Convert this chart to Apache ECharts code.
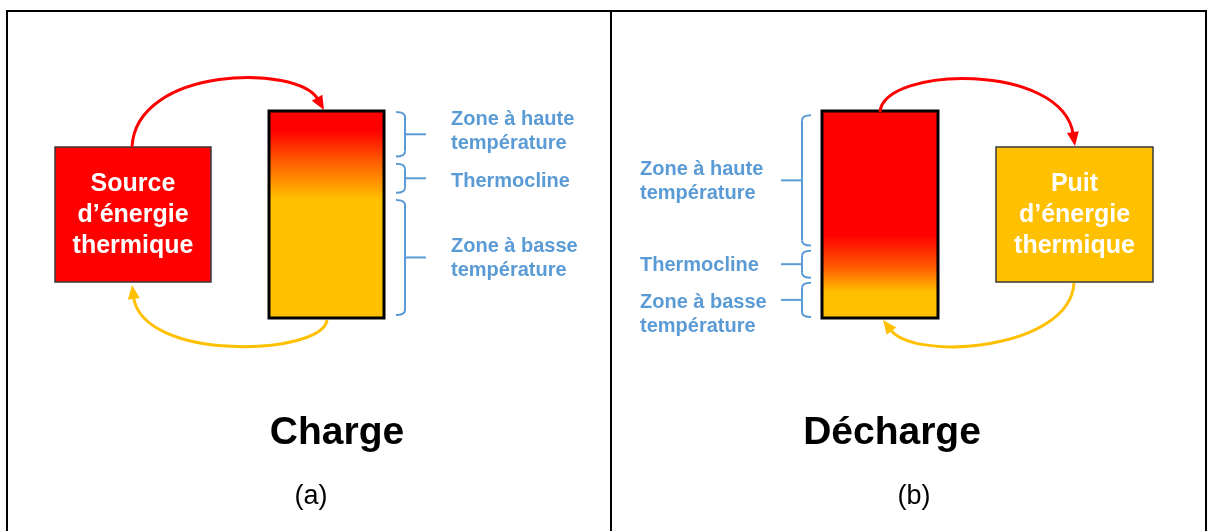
<!DOCTYPE html>
<html>
<head>
<meta charset="utf-8">
<script src="https://cdn.jsdelivr.net/npm/echarts@6/dist/echarts.min.js"></script>
<style>
  html, body { margin: 0; background: #fff; }
  #main { width: 1213px; height: 531px; }
</style>
</head>
<body>
<div id="main"></div>
<script>
// texts
const panelTitles = ['Charge', 'Décharge'];
const panelTags = ['(a)', '(b)'];
const boxLabels = ['Source\nd’énergie\nthermique', 'Puit\nd’énergie\nthermique'];
const zoneLabels = ['Zone à haute\ntempérature', 'Thermocline', 'Zone à basse\ntempérature'];
// tank colour profile, top (0) to bottom (1)
const chargeStops = [[0, '#ff0000'], [0.1, '#ff0000'], [0.27, '#ff6a00'], [0.43, '#ffc000'], [1, '#ffc000']];
const dischargeStops = [[0, '#ff0000'], [0.6, '#ff0000'], [0.75, '#ff5a00'], [0.87, '#ffc000'], [1, '#ffc000']];
// zone extents along the tank, [start, end]
const chargeZones = [[0.005, 0.22], [0.255, 0.395], [0.43, 0.985]];
const dischargeZones = [[0.02, 0.65], [0.675, 0.805], [0.83, 0.995]];

const RED = '#ff0000', YELLOW = '#ffc000', BLUE = '#5b9bd5';
const FONT = '"Liberation Sans", Arial, sans-serif';

const chart = echarts.init(document.getElementById('main'));
const els = [];

function grad(stops) {
  return new echarts.graphic.LinearGradient(0, 0, 0, 1,
    stops.map(s => ({ offset: s[0], color: s[1] })));
}

function txt(x, y, text, font, fill, align, lh) {
  els.push({
    type: 'text', x: x, y: y, z: 10,
    style: {
      text: text, font: font, fill: fill, lineHeight: lh,
      textAlign: align, align: align,
      textVerticalAlign: 'middle', verticalAlign: 'middle'
    }
  });
}

function arrow(p0, c1, c2, p3, color) {
  const dx = p3[0] - c2[0], dy = p3[1] - c2[1];
  const len = Math.hypot(dx, dy), ux = dx / len, uy = dy / len;
  const L = 14, W = 6;
  const bx = p3[0] - ux * L, by = p3[1] - uy * L;
  els.push({
    type: 'bezierCurve', z: 5,
    shape: {
      x1: p0[0], y1: p0[1], cpx1: c1[0], cpy1: c1[1],
      cpx2: c2[0], cpy2: c2[1], x2: p3[0] - ux * (L - 2), y2: p3[1] - uy * (L - 2)
    },
    style: { stroke: color, lineWidth: 3, fill: null }
  });
  els.push({
    type: 'polygon', z: 6,
    shape: { points: [[p3[0], p3[1]], [bx - uy * W, by + ux * W], [bx + uy * W, by - ux * W]] },
    style: { fill: color }
  });
}

// dir = 1: brace on the right of the tank, tick to the right; -1: on the left
function brace(xv, y0, y1, dir) {
  const hook = 9, tick = 21, r = 5;
  const xh = xv - dir * hook;
  const ym = (y0 + y1) / 2;
  const st = { stroke: BLUE, lineWidth: 2, fill: null };
  els.push({ type: 'bezierCurve', shape: { x1: xh, y1: y0, cpx1: xv, cpy1: y0, x2: xv, y2: y0 + r }, style: st });
  els.push({ type: 'line', shape: { x1: xv, y1: y0 + r, x2: xv, y2: y1 - r }, style: st });
  els.push({ type: 'bezierCurve', shape: { x1: xv, y1: y1 - r, cpx1: xv, cpy1: y1, x2: xh, y2: y1 }, style: st });
  els.push({ type: 'line', shape: { x1: xv, y1: ym, x2: xv + dir * tick, y2: ym }, style: st });
}

function tank(x, y, w, h, stops) {
  els.push({
    type: 'rect', z: 3, shape: { x: x, y: y, width: w, height: h },
    style: { fill: grad(stops), stroke: '#000', lineWidth: 3 }
  });
}

function box(x, y, w, h, color, label) {
  els.push({
    type: 'rect', z: 3, shape: { x: x, y: y, width: w, height: h },
    style: { fill: color, stroke: '#3a3a3a', lineWidth: 1.5 }
  });
  txt(x + w / 2, y + h / 2 + 1, label, 'bold 25px ' + FONT, '#fff', 'center', 31);
}

// frame
els.push({ type: 'rect', shape: { x: 7, y: 11, width: 1199, height: 530 }, style: { fill: null, stroke: '#000', lineWidth: 2 } });
els.push({ type: 'line', shape: { x1: 611, y1: 11, x2: 611, y2: 531 }, style: { stroke: '#000', lineWidth: 2 } });

const tankY = 111, tankH = 207;

// (a) charge
box(55, 147, 156, 135, RED, boxLabels[0]);
tank(269, tankY, 115, tankH, chargeStops);
arrow([132, 147], [136, 66], [298, 64], [324, 110], RED);
arrow([327, 320], [322, 356], [142, 362], [132, 285], YELLOW);
chargeZones.forEach(function (z, i) {
  brace(405, tankY + z[0] * tankH, tankY + z[1] * tankH, 1);
});
txt(451, 131, zoneLabels[0], 'bold 20px ' + FONT, BLUE, 'left', 24);
txt(451, 181, zoneLabels[1], 'bold 20px ' + FONT, BLUE, 'left', 24);
txt(451, 258, zoneLabels[2], 'bold 20px ' + FONT, BLUE, 'left', 24);
txt(337, 433, panelTitles[0], 'bold 39px ' + FONT, '#000', 'center');
txt(311, 497, panelTags[0], '27px ' + FONT, '#000', 'center');

// (b) décharge
tank(822, tankY, 116, tankH, dischargeStops);
box(996, 147, 157, 135, YELLOW, boxLabels[1]);
arrow([880, 112], [884, 66], [1062, 62], [1075, 146], RED);
arrow([1074, 283], [1070, 350], [915, 362], [883, 320], YELLOW);
dischargeZones.forEach(function (z, i) {
  brace(802, tankY + z[0] * tankH, tankY + z[1] * tankH, -1);
});
txt(640, 181, zoneLabels[0], 'bold 20px ' + FONT, BLUE, 'left', 24);
txt(640, 265, zoneLabels[1], 'bold 20px ' + FONT, BLUE, 'left', 24);
txt(640, 314, zoneLabels[2], 'bold 20px ' + FONT, BLUE, 'left', 24);
txt(892, 433, panelTitles[1], 'bold 39px ' + FONT, '#000', 'center');
txt(914, 497, panelTags[1], '27px ' + FONT, '#000', 'center');

chart.setOption({
  backgroundColor: '#fff',
  animation: false,
  graphic: { elements: els }
});
</script>
</body>
</html>
